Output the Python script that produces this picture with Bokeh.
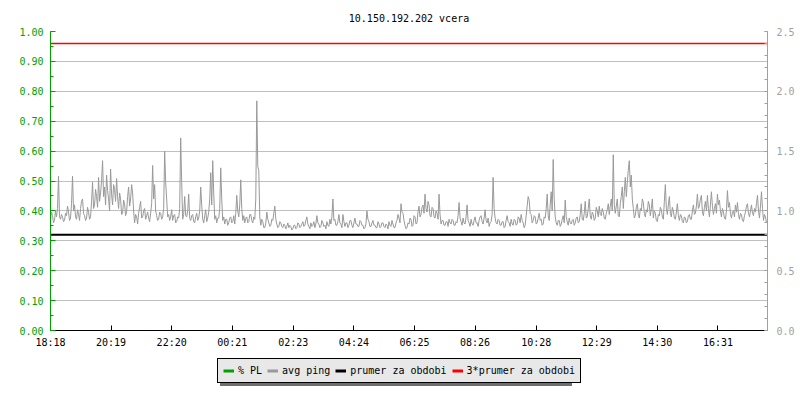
from bokeh.plotting import figure
from bokeh.layouts import column
from bokeh.models import (Range1d, LinearAxis, SingleIntervalTicker, FixedTicker,
                          PrintfTickFormatter, Legend, LegendItem)
from bokeh.embed import file_html
from bokeh.resources import INLINE

# ---------------- data ----------------
title_text = "10.150.192.202 vcera"
tick_labels = ["18:18", "20:19", "22:20", "00:21", "02:23", "04:24",
               "06:25", "08:26", "10:28", "12:29", "14:30", "16:31"]
sample_minutes = 2          # spacing of the avg ping samples
ping_ms = [
    # 18:18 .. 22:16
    0.93, 0.99, 0.96, 0.90, 0.92, 1.00, 0.95, 1.02, 1.29, 0.95,
    0.93, 0.97, 0.95, 0.91, 0.92, 0.98, 0.96, 1.04, 0.99, 0.92,
    0.94, 1.06, 1.29, 1.00, 1.05, 0.95, 0.93, 1.01, 0.97, 0.92,
    1.02, 1.08, 1.10, 0.98, 0.96, 0.92, 0.94, 1.03, 0.99, 0.93,
    0.95, 1.08, 1.24, 1.02, 1.05, 1.18, 1.12, 1.03, 1.28, 1.08,
    1.15, 1.25, 1.42, 1.12, 1.20, 1.05, 1.30, 1.17, 1.10, 1.00,
    1.35, 1.14, 1.05, 1.22, 1.18, 1.08, 1.27, 1.12, 1.02, 1.15,
    1.10, 0.97, 0.98, 1.09, 1.06, 0.96, 0.99, 1.12, 1.20, 1.04,
    1.10, 1.22, 1.15, 1.00, 0.90, 0.97, 0.95, 0.89, 0.98, 1.03,
    1.08, 0.94, 0.95, 1.00, 1.02, 0.93, 0.96, 0.99, 0.94, 0.91,
    0.98, 1.06, 1.38, 1.10, 1.22, 1.00, 0.96, 0.92, 0.93, 0.99,
    0.98, 0.93, 0.95, 1.02, 1.50, 1.24, 1.10, 0.95, 0.97, 0.92,
    # 22:18 .. 02:16
    0.95, 1.01, 0.92, 0.96, 0.97, 0.90, 0.91, 0.95, 0.94, 1.02,
    1.61, 1.24, 0.93, 0.97, 1.12, 0.96, 0.95, 1.00, 1.14, 0.94,
    0.92, 0.96, 0.97, 0.91, 0.90, 0.95, 0.98, 0.92, 0.94, 1.00,
    1.20, 1.05, 0.93, 0.90, 0.96, 1.01, 0.91, 0.94, 0.99, 1.10,
    1.32, 1.05, 1.42, 1.15, 0.93, 0.96, 0.90, 0.94, 0.94, 1.02,
    1.36, 1.10, 0.92, 0.95, 0.89, 0.93, 0.93, 0.88, 0.90, 0.94,
    0.95, 0.90, 0.91, 0.96, 0.89, 0.98, 1.13, 1.00, 0.95, 1.05,
    1.26, 1.02, 0.92, 0.96, 0.90, 0.94, 0.95, 0.90, 0.91, 0.97,
    0.97, 0.92, 0.90, 0.95, 0.93, 1.10, 1.92, 1.37, 1.34, 0.95,
    0.88, 0.93, 0.91, 0.86, 0.86, 0.90, 0.99, 0.93, 0.90, 0.87,
    0.88, 0.93, 0.92, 0.98, 1.04, 0.93, 0.89, 0.86, 0.87, 0.91,
    0.90, 0.87, 0.86, 0.89, 0.88, 0.85, 0.87, 0.90, 0.86, 0.88,
    # 02:18 .. 06:16
    0.87, 0.84, 0.85, 0.88, 0.88, 0.85, 0.86, 0.90, 0.89, 0.86,
    0.87, 0.89, 0.91, 0.87, 0.88, 0.92, 0.95, 0.89, 0.87, 0.85,
    0.90, 0.87, 0.88, 0.91, 0.86, 0.89, 0.96, 0.90, 0.89, 0.86,
    0.87, 0.92, 0.90, 0.87, 0.88, 0.85, 0.91, 0.88, 0.87, 0.93,
    0.89, 0.95, 1.10, 0.92, 0.93, 0.88, 0.88, 0.91, 0.97, 0.90,
    0.89, 0.86, 0.97, 0.91, 0.87, 0.90, 0.90, 0.86, 0.88, 0.92,
    0.92, 0.88, 0.86, 0.90, 0.94, 0.89, 0.89, 0.87, 0.87, 0.92,
    0.91, 0.88, 0.88, 0.85, 0.86, 0.89, 1.00, 0.93, 0.91, 0.87,
    0.87, 0.90, 0.92, 0.88, 0.88, 0.86, 0.86, 0.91, 0.89, 0.86,
    0.87, 0.90, 0.90, 0.87, 0.86, 0.89, 0.88, 0.85, 0.91, 0.88,
    0.87, 0.92, 0.89, 0.86, 0.86, 0.90, 0.92, 0.97, 0.94, 0.90,
    1.06, 0.99, 0.98, 0.92, 0.88, 0.85, 0.86, 0.90, 0.89, 0.94,
    # 06:18 .. 10:16
    0.93, 0.87, 0.88, 0.96, 0.95, 0.89, 0.90, 0.99, 1.04, 0.95,
    0.97, 1.03, 1.05, 0.98, 1.14, 1.02, 0.99, 1.08, 1.05, 0.96,
    0.95, 1.03, 1.02, 0.95, 0.94, 1.00, 0.98, 0.93, 1.14, 0.97,
    0.89, 0.92, 0.92, 0.88, 0.88, 0.91, 0.91, 0.87, 0.93, 0.90,
    0.89, 0.93, 0.92, 0.88, 0.88, 0.91, 0.90, 0.96, 1.07, 0.94,
    0.91, 0.88, 0.94, 0.90, 0.89, 0.95, 1.05, 0.92, 0.90, 0.87,
    0.93, 0.89, 0.88, 0.92, 0.95, 0.90, 0.90, 0.87, 0.92, 0.95,
    0.96, 0.91, 0.89, 0.94, 1.01, 0.92, 0.90, 0.94, 0.87, 0.90,
    0.91, 0.97, 1.28, 1.02, 0.94, 0.90, 0.89, 0.93, 0.92, 0.88,
    0.88, 0.91, 0.91, 0.86, 0.87, 0.92, 0.96, 0.91, 0.90, 0.87,
    0.93, 0.89, 0.88, 0.93, 0.92, 0.88, 0.89, 0.95, 0.94, 0.90,
    0.97, 0.92, 0.90, 0.86, 0.88, 0.96, 1.04, 1.12, 1.09, 0.98,
    # 10:18 .. 14:16
    0.97, 0.90, 0.92, 0.96, 0.95, 0.89, 0.90, 0.94, 0.98, 0.92,
    0.93, 0.88, 0.89, 0.95, 0.94, 1.02, 1.14, 0.96, 0.92, 1.05,
    1.16, 1.00, 1.43, 1.10, 0.95, 0.90, 0.88, 0.92, 0.92, 0.87,
    0.89, 0.93, 0.96, 0.90, 1.09, 0.95, 0.91, 0.88, 0.94, 0.90,
    0.89, 0.92, 0.93, 0.88, 0.90, 0.94, 0.95, 0.90, 0.91, 0.97,
    1.06, 0.93, 0.92, 0.98, 1.08, 0.94, 0.95, 1.02, 1.10, 0.96,
    0.93, 0.99, 0.97, 0.92, 0.94, 1.03, 1.00, 0.95, 1.04, 0.97,
    0.96, 1.02, 0.99, 0.94, 0.93, 0.98, 1.01, 1.06, 0.97, 1.04,
    1.10, 1.00, 1.47, 1.05, 0.98, 1.04, 1.10, 0.96, 0.95, 1.06,
    1.12, 1.20, 1.02, 1.16, 1.28, 1.12, 1.24, 1.34, 1.42, 1.20,
    1.30, 1.10, 1.02, 0.94, 0.96, 1.03, 1.06, 0.97, 0.94, 1.02,
    1.00, 1.10, 1.07, 0.98, 0.95, 1.01, 0.99, 1.08, 1.05, 0.96,
    # 14:18 .. 18:10
    1.02, 1.10, 0.94, 1.00, 0.98, 0.92, 0.91, 0.97, 0.96, 1.03,
    1.01, 0.95, 0.93, 1.08, 1.22, 1.02, 0.97, 1.05, 1.12, 0.98,
    0.95, 1.03, 1.00, 0.94, 0.93, 0.99, 1.06, 0.96, 0.92, 0.97,
    0.96, 0.91, 0.90, 0.95, 0.94, 0.90, 0.91, 0.96, 0.97, 0.93,
    0.93, 1.00, 1.05, 0.97, 0.98, 1.04, 1.14, 1.02, 1.04, 1.10,
    1.13, 0.99, 0.96, 1.03, 1.08, 1.00, 1.13, 1.02, 0.95, 1.05,
    1.16, 1.04, 0.97, 1.02, 1.06, 0.98, 1.14, 1.05, 1.09, 1.00,
    0.95, 1.02, 0.99, 0.94, 0.93, 1.00, 1.17, 1.03, 1.07, 0.98,
    0.94, 0.99, 1.00, 0.95, 1.05, 0.99, 1.07, 0.97, 0.93, 0.98,
    0.97, 0.92, 0.91, 0.96, 0.99, 1.04, 1.06, 0.98, 0.95, 1.00,
    1.05, 0.98, 0.96, 1.02, 0.99, 1.06, 1.13, 1.00, 0.94, 1.04,
    1.16, 1.02, 0.92, 0.97, 0.95, 0.90, 0.92,
]
pl_percent = [0.0, 0.0]      # packet loss: none during the period
mean_ping = 0.80             # "prumer za obdobi"
triple_mean = 2.40           # "3*prumer za obdobi"
series_names = ["% PL", "avg ping", "prumer za obdobi", "3*prumer za obdobi"]
series_colors = ["#00a000", "#999999", "#000000", "#ff0000"]

# ---------------- derived ----------------
times = [i * sample_minutes for i in range(len(ping_ms))]
t_span = [times[0], times[-1]]


def minutes_from_start(label):
    h, m = map(int, label.split(":"))
    h0, m0 = map(int, tick_labels[0].split(":"))
    return (h * 60 + m - (h0 * 60 + m0)) % 1440


tick_pos = [minutes_from_start(s) for s in tick_labels]

FONT = "DejaVu Sans Mono"
FS = "10px"
W = 800
H_MAIN = 350
H_LEG = 50

p = figure(width=W, height=H_MAIN, output_backend="svg", toolbar_location=None,
           x_range=Range1d(times[0], times[-1]), y_range=Range1d(0, 1),
           min_border_left=50, min_border_right=33, min_border_top=31,
           min_border_bottom=20)
p.extra_y_ranges = {"ping": Range1d(0, 2.5)}
p.outline_line_color = None
p.background_fill_color = "white"
p.border_fill_color = "white"

p.title.text = title_text
p.title.align = "center"
p.title.text_font = FONT
p.title.text_font_size = FS
p.title.text_font_style = "normal"
p.title.text_color = "black"
p.title.standoff = 16
p.title.offset = 0

# grid
p.xgrid.grid_line_color = None
p.ygrid.grid_line_color = "#c0c0c0"
p.ygrid.grid_line_width = 1

# left axis (% PL)
ly = p.yaxis[0]
ly.ticker = SingleIntervalTicker(interval=0.1, num_minor_ticks=2)
ly.formatter = PrintfTickFormatter(format="%.2f")
ly.axis_line_color = "#00a000"
ly.major_tick_line_color = "#00a000"
ly.minor_tick_line_color = "#00a000"
ly.major_label_text_color = "#00a000"
ly.major_tick_in = 5
ly.major_tick_out = 0
ly.minor_tick_in = 3
ly.minor_tick_out = 0
ly.major_label_standoff = 7
ly.major_label_text_font = FONT
ly.major_label_text_font_size = FS

# right axis (ping)
ry = LinearAxis(y_range_name="ping",
                ticker=SingleIntervalTicker(interval=0.5, num_minor_ticks=5),
                formatter=PrintfTickFormatter(format="%.1f"))
ry.axis_line_color = "#a0a0a0"
ry.major_tick_line_color = "#a0a0a0"
ry.minor_tick_line_color = "#a0a0a0"
ry.major_label_text_color = "#a0a0a0"
ry.major_tick_in = 3
ry.major_tick_out = 0
ry.minor_tick_in = 3
ry.minor_tick_out = 0
ry.major_label_standoff = 9
ry.major_label_text_font = FONT
ry.major_label_text_font_size = FS
p.add_layout(ry, "right")

# bottom axis (time)
bx = p.xaxis[0]
bx.ticker = FixedTicker(ticks=tick_pos)
bx.major_label_overrides = {t: s for t, s in zip(tick_pos, tick_labels)}
bx.axis_line_color = "black"
bx.major_tick_line_color = "black"
bx.minor_tick_line_color = None
bx.major_tick_in = 5
bx.major_tick_out = 0
bx.major_label_standoff = 6
bx.major_label_text_font = FONT
bx.major_label_text_font_size = FS
bx.major_label_text_color = "black"

# series
p.line(times, ping_ms, y_range_name="ping", line_color=series_colors[1], line_width=1)
p.line(t_span, pl_percent, line_color=series_colors[0], line_width=1)
p.line(t_span, [mean_ping, mean_ping], y_range_name="ping",
       line_color=series_colors[2], line_width=2)
p.line(t_span, [triple_mean, triple_mean], y_range_name="ping",
       line_color=series_colors[3], line_width=1.5)

# ---------------- legend strip ----------------
q = figure(width=W, height=H_LEG, output_backend="svg", toolbar_location=None,
           x_range=Range1d(0, W), y_range=Range1d(0, H_LEG),
           x_axis_type=None, y_axis_type=None, min_border=0)
q.outline_line_color = None
q.background_fill_color = "white"
q.border_fill_color = "white"
q.grid.visible = False

NAN = float("nan")
proxies = [q.line(x=[NAN], y=[NAN], line_color=c, line_width=3) for c in series_colors]
shadow_proxy = q.line(x=[NAN], y=[NAN], line_alpha=0)

common = dict(orientation="horizontal", padding=5, margin=0, spacing=5,
              glyph_width=11, glyph_height=13, label_height=13, label_standoff=4,
              label_text_font=FONT, label_text_font_size=FS,
              click_policy="none")

# (legend locations are measured from the frame, which lines up with the chart's frame)
shadow = Legend(items=[LegendItem(label=" ", renderers=[shadow_proxy])],
                location=(170, 14), background_fill_color="#6e6e6e",
                background_fill_alpha=1, border_line_color=None,
                label_width=337, **common)
q.add_layout(shadow)

legend = Legend(items=[LegendItem(label=n, renderers=[r]) for n, r in zip(series_names, proxies)],
                location=(167, 17), background_fill_color="#e8e8e8",
                background_fill_alpha=1, border_line_color="black",
                border_line_width=1, border_line_alpha=1,
                label_text_color="black", **common)
q.add_layout(legend)

layout = column(p, q, spacing=0)
open("out.html", "w").write(file_html(layout, INLINE))
